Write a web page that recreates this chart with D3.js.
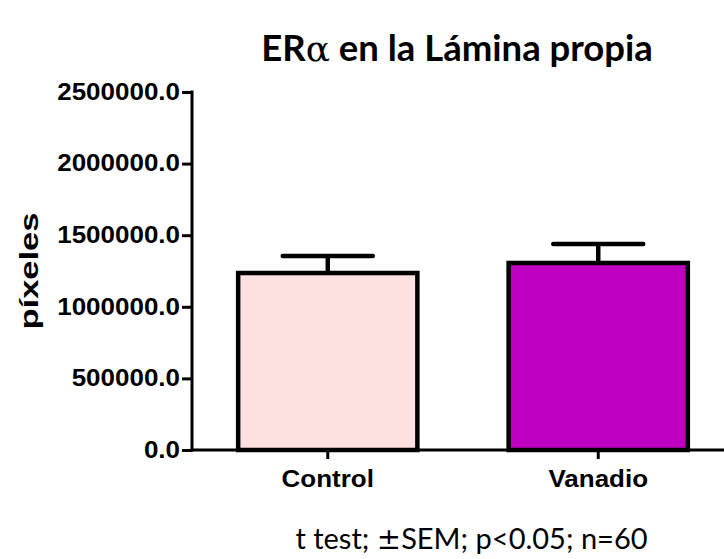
<!DOCTYPE html>
<html>
<head>
<meta charset="utf-8">
<script src="https://cdn.jsdelivr.net/npm/d3@7"></script>
<style>
  html, body { margin: 0; padding: 0; background: #fff; }
  svg { display: block; }
</style>
</head>
<body>
<svg id="chart" width="724" height="559"></svg>
<script>
// Group means and standard errors (pixel counts)
const categories = ["Control", "Vanadio"];
const means = [1236000, 1306000];
const sems = [119000, 133000];
const barColors = ["#fde0e0", "#c000c0"];
const yTicks = [0, 500000, 1000000, 1500000, 2000000, 2500000];

const svg = d3.select("#chart");
const stretch = 1.13; // wide glyph look of the labels

const y = d3.scaleLinear().domain([0, 2500000]).range([450, 92]);
const x = d3.scaleBand().domain(categories).range([192, 734])
  .paddingInner(0.33).paddingOuter(0.167);

// Title
const title = svg.append("text")
  .attr("x", 457).attr("y", 61)
  .attr("text-anchor", "middle")
  .style("font-family", "Lato, sans-serif")
  .style("font-weight", "bold")
  .style("font-size", "36.5px")
  .attr("fill", "#000");
title.append("tspan").text("ER");
title.append("tspan").style("font-family", "'DejaVu Serif', serif")
  .style("font-weight", "normal").style("font-size", "36px").text("α");
title.append("tspan").text(" en la Lámina propia");

// Bars
const data = categories.map((c, i) => ({ c, m: means[i], s: sems[i], col: barColors[i] }));
const bars = svg.append("g");
bars.selectAll("rect").data(data).join("rect")
  .attr("x", d => x(d.c) + 1)
  .attr("width", x.bandwidth() - 2)
  .attr("y", d => y(d.m))
  .attr("height", d => y(0) - y(d.m))
  .attr("fill", d => d.col)
  .attr("stroke", "#000")
  .attr("stroke-width", 4.5);

// Error bars (upper half only)
const capHalf = 45;
const eb = svg.append("g").attr("stroke", "#000").attr("stroke-width", 4.5);
eb.selectAll("line.v").data(data).join("line").attr("class", "v")
  .attr("x1", d => x(d.c) + x.bandwidth() / 2)
  .attr("x2", d => x(d.c) + x.bandwidth() / 2)
  .attr("y1", d => y(d.m))
  .attr("y2", d => y(d.m + d.s));
eb.selectAll("line.cap").data(data).join("line").attr("class", "cap")
  .attr("x1", d => x(d.c) + x.bandwidth() / 2 - capHalf)
  .attr("x2", d => x(d.c) + x.bandwidth() / 2 + capHalf)
  .attr("y1", d => y(d.m + d.s))
  .attr("y2", d => y(d.m + d.s))
  .attr("stroke-linecap", "round");

// Y axis
const yAxis = svg.append("g").attr("transform", "translate(192,0)")
  .call(d3.axisLeft(y).tickValues(yTicks).tickSize(10).tickSizeOuter(0)
    .tickFormat(d3.format(".1f")));
yAxis.select(".domain").attr("stroke-width", 3).attr("d", `M0,${y(2500000) - 1.5}V${y(0) + 1.5}`);
yAxis.selectAll(".tick line").attr("stroke-width", 3);
yAxis.selectAll(".tick text")
  .style("font-family", "'Liberation Sans', Arial, sans-serif")
  .style("font-weight", "bold")
  .style("font-size", "23px")
  .attr("fill", "#000")
  .attr("x", -12 / stretch)
  .attr("transform", `scale(${stretch},1)`);

// X axis
const xAxis = svg.append("g").attr("transform", "translate(0,450)")
  .call(d3.axisBottom(x).tickSize(9).tickSizeOuter(0));
xAxis.select(".domain").attr("stroke-width", 3).attr("d", "M190.5,0H724");
xAxis.selectAll(".tick line").attr("stroke-width", 3);
xAxis.selectAll(".tick text")
  .style("font-family", "'Liberation Sans', Arial, sans-serif")
  .style("font-weight", "bold")
  .style("font-size", "23px")
  .attr("fill", "#000")
  .attr("x", 0)
  .attr("y", 37).attr("dy", 0)
  .attr("transform", `scale(${stretch},1)`);

// Y axis label
svg.append("text")
  .attr("transform", "translate(38,271) rotate(-90)")
  .attr("text-anchor", "middle")
  .style("font-family", "'Liberation Sans', Arial, sans-serif")
  .style("font-weight", "bold")
  .style("font-size", "26px")
  .attr("textLength", 117)
  .attr("lengthAdjust", "spacingAndGlyphs")
  .text("píxeles");

// Footnote
const foot = svg.append("text")
  .attr("x", 471.5).attr("y", 549)
  .attr("text-anchor", "middle")
  .style("font-family", "Lato, sans-serif")
  .style("font-size", "29px")
  .attr("fill", "#000");
foot.append("tspan").text("t test;  ");
foot.append("tspan").style("font-family", "'DejaVu Serif', serif").text("±");
foot.append("tspan").text("SEM; p<0.05; n=60");
</script>
</body>
</html>
